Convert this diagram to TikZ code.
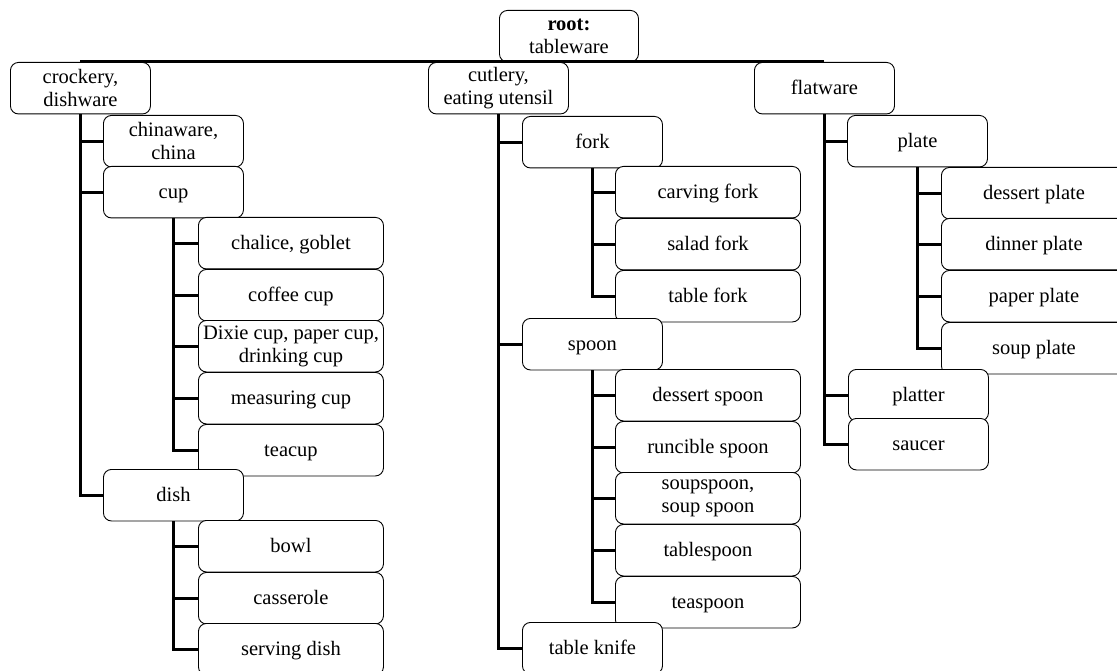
\documentclass[tikz,border=0pt]{standalone}
\usepackage{fontspec}
\setmainfont{Liberation Serif}
\begin{document}
\begin{tikzpicture}[x=1pt,y=-1pt,
  box/.style={draw, rounded corners=8pt, fill=white, line width=0.9pt, anchor=north west,
    minimum height=51.5pt, inner sep=0pt, align=center,
    font=\fontsize{20.5}{23}\selectfont},
  one/.style={text height=16.5pt, text depth=3.5pt},
  two/.style={},
  mid/.style={box, minimum width=140pt},
  leaf/.style={box, minimum width=185pt},
  conn/.style={line width=3pt}]
\useasboundingbox (0,0) rectangle (1117,671);
% level 0/1
\node[box, two, minimum width=139pt] (root) at (499,10) {\textbf{root:}\\tableware};
\node[mid, two] (crock) at (10,62) {crockery,\\dishware};
\node[mid, two] (cutl) at (428,62) {cutlery,\\eating utensil};
\node[mid, one] (flat) at (754,62) {flatware};
% crockery branch
\node[mid, two] (china) at (103,115) {chinaware,\\china};
\node[mid, one] (cup) at (103,166) {cup};
\node[leaf, one] (chalice) at (198,217) {chalice, goblet};
\node[leaf, one] (coffee) at (198,269) {coffee cup};
\node[leaf, two] (dixie) at (198,320) {Dixie cup, paper cup,\\drinking cup};
\node[leaf, one] (measuring) at (198,372) {measuring cup};
\node[leaf, one] (teacup) at (198,424) {teacup};
\node[mid, one] (dish) at (103,469) {dish};
\node[leaf, one] (bowl) at (198,520) {bowl};
\node[leaf, one] (casserole) at (198,572) {casserole};
\node[leaf, one] (serving) at (198,623) {serving dish};
% cutlery branch
\node[mid, one] (fork) at (522,116) {fork};
\node[leaf, one] (carving) at (615,166) {carving fork};
\node[leaf, one] (salad) at (615,218) {salad fork};
\node[leaf, one] (tablefork) at (615,270) {table fork};
\node[mid, one] (spoon) at (522,318) {spoon};
\node[leaf, one] (dspoon) at (615,369) {dessert spoon};
\node[leaf, one] (runcible) at (615,421) {runcible spoon};
\node[leaf, two] (soupspoon) at (615,472) {soupspoon,\\soup spoon};
\node[leaf, one] (tablespoon) at (615,524) {tablespoon};
\node[leaf, one] (teaspoon) at (615,576) {teaspoon};
\node[mid, one] (knife) at (522,622) {table knife};
% flatware branch
\node[mid, one] (plate) at (847,115) {plate};
\node[leaf, one] (dplate) at (941,167) {dessert plate};
\node[leaf, one] (dinner) at (941,218) {dinner plate};
\node[leaf, one] (paper) at (941,270) {paper plate};
\node[leaf, one] (soupplate) at (941,322) {soup plate};
\node[mid, one] (platter) at (848,369) {platter};
\node[mid, one] (saucer) at (848,418) {saucer};
% connectors
\draw[conn] (crock.north) -- (flat.north);
\draw[conn] (crock.south) |- (dish.west);
\foreach \c in {china,cup} \draw[conn] (crock.south |- \c.west) -- (\c.west);
\draw[conn] (cup.south) |- (teacup.west);
\foreach \c in {chalice,coffee,dixie,measuring} \draw[conn] (cup.south |- \c.west) -- (\c.west);
\draw[conn] (dish.south) |- (serving.west);
\foreach \c in {bowl,casserole} \draw[conn] (dish.south |- \c.west) -- (\c.west);
\draw[conn] (cutl.south) |- (knife.west);
\foreach \c in {fork,spoon} \draw[conn] (cutl.south |- \c.west) -- (\c.west);
\draw[conn] (fork.south) |- (tablefork.west);
\foreach \c in {carving,salad} \draw[conn] (fork.south |- \c.west) -- (\c.west);
\draw[conn] (spoon.south) |- (teaspoon.west);
\foreach \c in {dspoon,runcible,soupspoon,tablespoon} \draw[conn] (spoon.south |- \c.west) -- (\c.west);
\draw[conn] (flat.south) |- (saucer.west);
\foreach \c in {plate,platter} \draw[conn] (flat.south |- \c.west) -- (\c.west);
\draw[conn] (plate.south) |- (soupplate.west);
\foreach \c in {dplate,dinner,paper} \draw[conn] (plate.south |- \c.west) -- (\c.west);
\end{tikzpicture}
\end{document}
